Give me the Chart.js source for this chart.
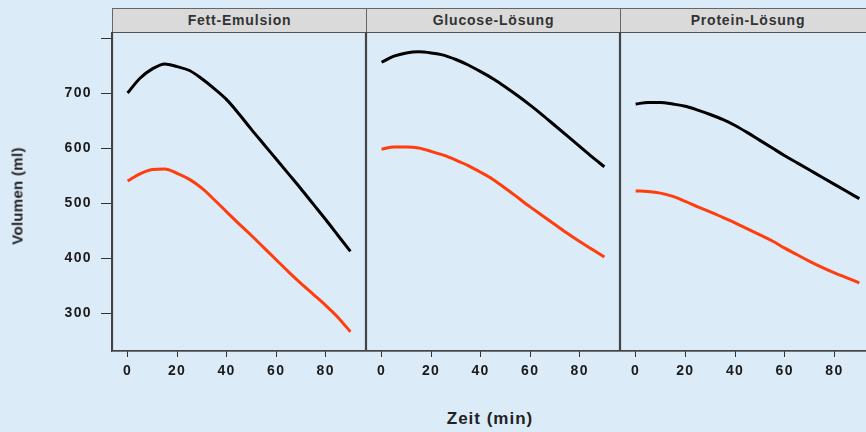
<!DOCTYPE html>
<html>
<head>
<meta charset="utf-8">
<script src="https://cdn.jsdelivr.net/npm/chart.js@4/dist/chart.umd.min.js"></script>
<style>
  body { margin: 0; width: 866px; height: 432px; overflow: hidden; position: relative;
         background: #dcebf8; font-family: "Liberation Sans", Arial, sans-serif; }
  .strip { position: absolute; top: 8px; height: 25px; box-sizing: border-box;
           background: #dadada; border: 1px solid #666; color: #333;
           font-weight: bold; font-size: 14px; letter-spacing: 0.8px;
           text-align: center; line-height: 23px; }
  .panel { position: absolute; top: 32px; height: 368px; }
  #ytitle { position: absolute; left: 17px; top: 196px; transform: translate(-50%, -50%) rotate(-90deg);
            font-weight: bold; font-size: 15px; letter-spacing: 0.3px; color: #222; white-space: nowrap; }
  #xtitle { position: absolute; left: 490px; top: 419px; transform: translate(-50%, -50%);
            font-weight: bold; font-size: 17px; letter-spacing: 1px; color: #222; white-space: nowrap; }
</style>
</head>
<body>
<div class="strip" style="left:112px;width:255px">Fett-Emulsion</div>
<div class="strip" style="left:366px;width:255px">Glucose-Lösung</div>
<div class="strip" style="left:620px;width:256px">Protein-Lösung</div>
<div class="panel" style="left:0;width:366px"><canvas id="p0" width="366" height="368"></canvas></div>
<div class="panel" style="left:366px;width:254px"><canvas id="p1" width="254" height="368"></canvas></div>
<div class="panel" style="left:620px;width:255px"><canvas id="p2" width="255" height="368"></canvas></div>
<div id="ytitle">Volumen (ml)</div>
<div id="xtitle">Zeit (min)</div>
<script>
const zeit = [0, 5, 10, 15, 20, 25, 30, 35, 40, 45, 50, 55, 60, 65, 70, 75, 80, 85, 90];
const panelNames = ['Fett-Emulsion', 'Glucose-Lösung', 'Protein-Lösung'];
const fettSchwarz = [700, 727, 744, 753, 748, 741, 726, 708, 688, 662, 634, 607, 580, 553, 526, 498, 470, 441, 412];
const fettRot = [540, 553, 561, 562, 554, 543, 527, 506, 484, 462, 441, 419, 397, 375, 354, 334, 314, 292, 266];
const glucoseSchwarz = [756, 767, 773, 775, 773, 769, 761, 751, 739, 726, 711, 695, 678, 660, 641, 622, 603, 584, 566];
const glucoseRot = [598, 602, 602, 600, 594, 587, 578, 568, 556, 543, 527, 510, 493, 477, 461, 445, 430, 416, 402];
const proteinSchwarz = [680, 683, 683, 680, 676, 669, 661, 652, 641, 628, 614, 600, 586, 573, 560, 547, 534, 521, 508];
const proteinRot = [522, 521, 518, 512, 503, 493, 484, 474, 464, 453, 442, 431, 418, 406, 394, 383, 373, 364, 355];
const xTicks = [0, 20, 40, 60, 80];
const yTicks = [300, 400, 500, 600, 700, 800];
const yLabels = ['300', '400', '500', '600', '700', ''];

const tickFont = { family: 'Liberation Sans', weight: 'bold', size: 14 };

// frame around each panel + letter spacing for tick labels
const frame = {
  id: 'frame',
  beforeDraw(chart) { chart.ctx.letterSpacing = '1.4px'; },
  afterDatasetsDraw(chart) {
    const a = chart.chartArea, ctx = chart.ctx;
    ctx.save();
    ctx.strokeStyle = '#444';
    ctx.lineWidth = 1.2;
    ctx.strokeRect(a.left + 0.5, a.top, a.right - a.left - 1, a.bottom - a.top);
    ctx.restore();
  }
};

const toPoints = (vals) => zeit.map((z, i) => ({ x: z, y: vals[i] }));

const makePanel = (id, schwarz, rot, showY) => {
  new Chart(document.getElementById(id), {
    type: 'line',
    data: {
      datasets: [
        { label: 'schwarz', data: toPoints(schwarz), borderColor: '#000', borderWidth: 3, cubicInterpolationMode: 'monotone', pointRadius: 0 },
        { label: 'rot', data: toPoints(rot), borderColor: '#ff3d0d', borderWidth: 3, cubicInterpolationMode: 'monotone', pointRadius: 0 }
      ]
    },
    options: {
      responsive: false,
      animation: false,
      layout: { padding: 0 },
      plugins: { legend: { display: false }, tooltip: { enabled: false } },
      scales: {
        x: {
          type: 'linear', min: -6.3, max: 96.3,
          afterBuildTicks: (s) => { s.ticks = xTicks.map(v => ({ value: v })); },
          afterFit: (s) => { s.height = 49; s.paddingLeft = 0; s.paddingRight = 0; },
          grid: { drawOnChartArea: false, drawTicks: true, tickLength: 6, color: '#333' },
          border: { display: true, color: '#444', width: 1.2 },
          ticks: { font: tickFont, color: '#1a1a1a', padding: 6, maxRotation: 0 }
        },
        y: {
          display: showY,
          min: 231, max: 811,
          afterBuildTicks: (s) => { s.ticks = yTicks.map(v => ({ value: v })); },
          afterFit: (s) => { s.width = showY ? 112 : 0; s.paddingTop = 0; s.paddingBottom = 0; },
          grid: { drawOnChartArea: false, drawTicks: true, tickLength: 11, color: '#333' },
          border: { display: true, color: '#444', width: 1.2 },
          ticks: { font: tickFont, color: '#1a1a1a', padding: 9,
                   callback: (v) => yLabels[yTicks.indexOf(v)] }
        }
      }
    },
    plugins: [frame]
  });
};

makePanel('p0', fettSchwarz, fettRot, true);
makePanel('p1', glucoseSchwarz, glucoseRot, false);
makePanel('p2', proteinSchwarz, proteinRot, false);
</script>
</body>
</html>
